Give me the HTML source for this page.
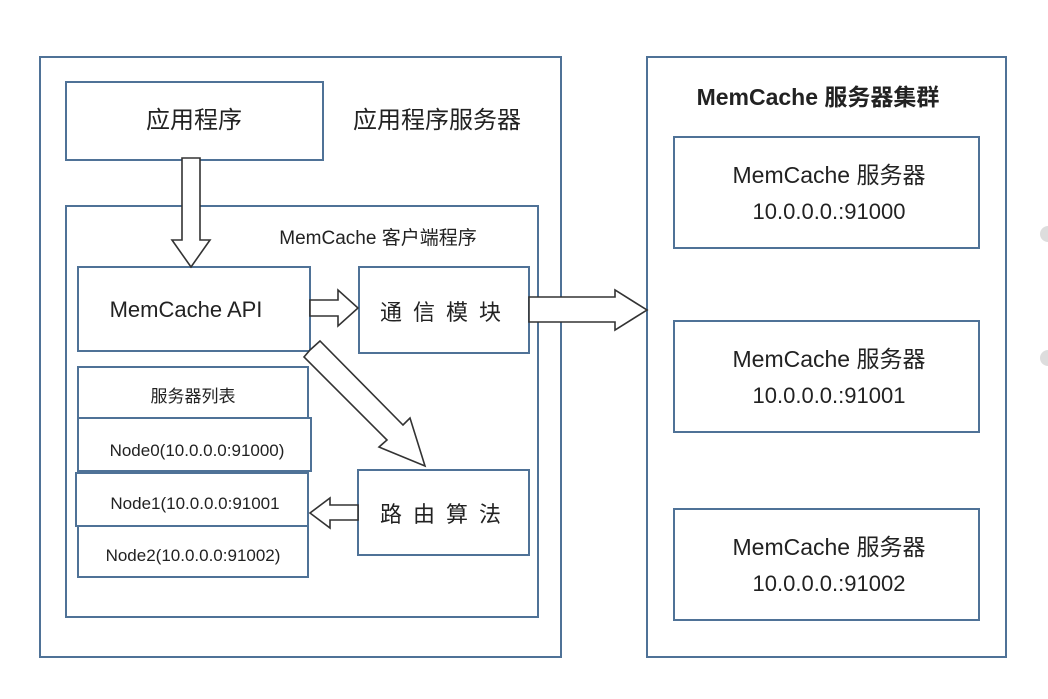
<!DOCTYPE html>
<html><head><meta charset="utf-8"><style>
body{margin:0;background:#fff;width:1048px;height:694px;overflow:hidden}
svg text{font-family:"Liberation Sans","Noto Sans CJK SC",sans-serif;fill:#222}
</style></head><body>
<svg width="1048" height="694" viewBox="0 0 1048 694" xmlns="http://www.w3.org/2000/svg">
<g fill="none" stroke="#4f7297" stroke-width="2">
<rect x="40" y="57" width="521" height="600"/>
<rect x="647" y="57" width="359" height="600"/>
<rect x="66" y="82" width="257" height="78"/>
<rect x="66" y="206" width="472" height="411"/>
<rect x="78" y="267" width="232" height="84"/>
<rect x="359" y="267" width="170" height="86"/>
<rect x="358" y="470" width="171" height="85"/>
<rect x="78" y="367" width="230" height="51"/>
<rect x="78" y="418" width="233" height="53"/>
<rect x="76" y="473" width="232" height="53"/>
<rect x="78" y="526" width="230" height="51"/>
<rect x="674" y="137" width="305" height="111"/>
<rect x="674" y="321" width="305" height="111"/>
<rect x="674" y="509" width="305" height="111"/>
</g>
<g fill="#fff" stroke="#333" stroke-width="1.6" stroke-linejoin="miter">
<polygon points="182,158 200,158 200,240 210,240 191,267 172,240 182,240"/>
<polygon points="310,300 338,300 338,290 358,308 338,326 338,316 310,316"/>
<polygon points="529,297 615,297 615,290 647,310 615,330 615,322 529,322"/>
<polygon points="358,505 330,505 330,498 310,513 330,528 330,520 358,520"/>
<polygon points="310,350 320,341 403,425 410,418 425,466 379,447 387,440 304,357"/>
</g>
<circle cx="1048" cy="234" r="8" fill="#ddd"/>
<circle cx="1048" cy="358" r="8" fill="#ddd"/>
<text x="194" y="128" text-anchor="middle" font-size="24">应用程序</text>
<text x="437" y="128" text-anchor="middle" font-size="24">应用程序服务器</text>
<g font-size="22">
<text x="446" y="320" text-anchor="middle" letter-spacing="11">通信模块</text>
<text x="446" y="522" text-anchor="middle" letter-spacing="11">路由算法</text>
<text x="829" y="183" text-anchor="middle" font-size="23">MemCache 服务器</text>
<text x="829" y="219" text-anchor="middle">10.0.0.0.:91000</text>
<text x="829" y="367" text-anchor="middle" font-size="23">MemCache 服务器</text>
<text x="829" y="403" text-anchor="middle">10.0.0.0.:91001</text>
<text x="829" y="555" text-anchor="middle" font-size="23">MemCache 服务器</text>
<text x="829" y="591" text-anchor="middle">10.0.0.0.:91002</text>
</g>
<text x="818" y="105" text-anchor="middle" font-size="23" font-weight="bold">MemCache 服务器集群</text>
<text x="186" y="317" text-anchor="middle" font-size="22">MemCache API</text>
<text x="378" y="244" text-anchor="middle" font-size="19">MemCache 客户端程序</text>
<g font-size="17" text-anchor="middle">
<text x="193" y="402">服务器列表</text>
<text x="197" y="456">Node0(10.0.0.0:91000)</text>
<text x="195" y="509">Node1(10.0.0.0:91001</text>
<text x="193" y="561">Node2(10.0.0.0:91002)</text>
</g>
</svg>
</body></html>
